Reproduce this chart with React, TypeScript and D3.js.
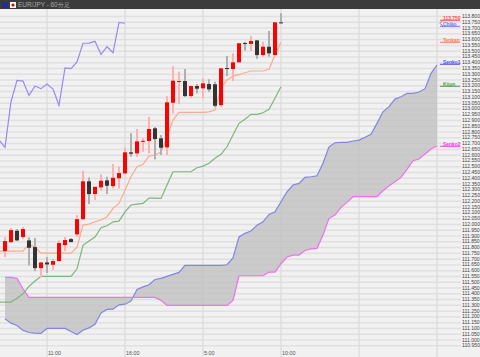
import React from "react";
import * as d3 from "d3";

const tickLabels = ["113.800","113.750","113.700","113.650","113.600","113.550","113.500","113.450","113.400","113.350","113.300","113.250","113.200","113.150","113.100","113.050","113.000","112.950","112.900","112.850","112.800","112.750","112.700","112.650","112.600","112.550","112.500","112.450","112.400","112.350","112.300","112.250","112.200","112.150","112.100","112.050","112.000","111.950","111.900","111.850","111.800","111.750","111.700","111.650","111.600","111.550","111.500","111.450","111.400","111.350","111.300","111.250","111.200","111.150","111.100","111.050","111.000","110.950"];

const timeLabels = ["11:00","16:00","5:00","10:00"];
const timeIndex = [7,20,33,46];
const extraGridIndex = [59,72];

const opens = [111.765,111.843,111.941,111.887,111.858,111.800,111.618,111.667,111.647,111.679,111.817,111.869,111.910,112.042,112.369,112.259,112.317,112.377,112.328,112.395,112.438,112.620,112.611,112.711,112.718,112.828,112.741,112.663,113.049,113.231,113.237,113.107,113.194,113.174,113.211,113.209,113.029,113.350,113.341,113.399,113.566,113.558,113.589,113.462,113.534,113.462,113.745];
const closes = [111.852,111.947,111.858,111.956,111.794,111.618,111.667,111.650,111.679,111.835,111.861,111.843,112.042,112.369,112.259,112.322,112.374,112.331,112.400,112.441,112.620,112.608,112.715,112.720,112.822,112.735,112.660,113.053,113.240,113.237,113.107,113.194,113.171,113.217,113.165,113.023,113.347,113.344,113.399,113.564,113.560,113.584,113.462,113.534,113.477,113.745,113.737];
const highs = [111.887,111.965,111.956,111.973,111.884,111.878,111.670,111.714,111.696,111.858,111.887,111.878,112.077,112.461,112.403,112.322,112.429,112.409,112.519,112.495,112.663,112.785,112.822,112.741,112.926,112.839,112.770,113.107,113.367,113.318,113.341,113.197,113.211,113.261,113.252,113.231,113.347,113.454,113.477,113.564,113.577,113.627,113.592,113.577,113.670,113.745,113.823];
const lows = [111.714,111.835,111.852,111.869,111.642,111.592,111.540,111.575,111.604,111.679,111.765,111.843,111.887,112.034,112.172,112.207,112.288,112.259,112.308,112.308,112.432,112.582,112.582,112.625,112.611,112.559,112.597,112.597,112.957,113.038,113.099,113.090,113.131,113.088,113.142,113.010,113.010,113.280,113.237,113.399,113.500,113.497,113.430,113.448,113.448,113.462,113.735];

const chikou = [112.726,112.663,113.058,113.243,113.237,113.113,113.194,113.171,113.211,113.168,113.027,113.350,113.344,113.402,113.564,113.566,113.581,113.468,113.534,113.482,113.745,113.737];
const tenkan = [111.765,111.765,111.765,111.765,111.765,111.823,111.800,111.748,111.748,111.748,111.748,111.748,111.748,111.800,111.990,111.999,112.019,112.034,112.063,112.135,112.178,112.293,112.409,112.495,112.516,112.588,112.597,112.622,112.752,112.899,112.966,112.966,112.966,112.966,112.966,112.971,112.986,113.176,113.246,113.280,113.292,113.309,113.324,113.324,113.324,113.339,113.462,113.572];
const kijun = [111.324,111.324,111.324,111.358,111.396,111.460,111.506,111.547,111.547,111.547,111.547,111.547,111.547,111.612,111.815,111.852,111.887,111.967,111.984,112.019,112.025,112.105,112.164,112.172,112.178,112.224,112.224,112.221,112.337,112.452,112.452,112.452,112.452,112.487,112.501,112.525,112.568,112.603,112.668,112.770,112.871,112.906,112.949,112.949,112.963,112.992,113.088,113.188];
const senkou1 = [111.179,111.142,111.122,111.079,111.061,111.055,111.053,111.096,111.096,111.096,111.096,111.070,111.044,111.081,111.101,111.131,111.229,111.261,111.263,111.300,111.306,111.332,111.434,111.456,111.474,111.520,111.529,111.546,111.564,111.581,111.642,111.642,111.642,111.642,111.642,111.642,111.642,111.647,111.707,111.888,111.919,111.939,111.990,112.019,112.083,112.105,112.192,112.279,112.337,112.351,112.403,112.409,112.417,112.525,112.668,112.703,112.706,112.706,112.718,112.726,112.750,112.776,112.871,112.971,113.015,113.081,113.101,113.131,113.131,113.142,113.171,113.304,113.376];
const senkou2 = [111.538,111.538,111.529,111.439,111.365,111.365,111.365,111.365,111.365,111.365,111.365,111.365,111.365,111.365,111.365,111.365,111.365,111.365,111.365,111.365,111.365,111.365,111.365,111.365,111.365,111.365,111.339,111.295,111.295,111.295,111.295,111.295,111.295,111.295,111.295,111.295,111.295,111.295,111.339,111.552,111.552,111.552,111.552,111.552,111.584,111.584,111.656,111.714,111.731,111.731,111.771,111.785,111.789,111.904,112.049,112.077,112.144,112.187,112.236,112.236,112.236,112.236,112.236,112.288,112.331,112.366,112.403,112.473,112.547,112.562,112.605,112.649,112.675];

const legendNames = ["113.750","Chiko","Tenkan","Senko1","Kijun","Senko2"];
const legendColors = ["#ff5050","#7070f0","#ff8050","#5050f0","#50a050","#f040f0"];
const legendRows = [18,24,40,62,84,144];

const UP = "#ff0000";
const DOWN = "#333333";
const FONT = "'Liberation Sans', Arial, sans-serif";

export default function App() {
  const x = d3.scaleLinear().domain([0, 72]).range([5, 437]);
  const y = d3.scaleLinear().domain([113.8, 110.95]).range([16, 345.3]);

  const line = (vals: number[], start: number) =>
    d3.line<number>().x((_, i) => x(i + start)).y((v) => y(v))(vals) as string;

  const cloud = d3
    .area<number>()
    .x((_, i) => x(i))
    .y0((v) => y(v))
    .y1((_, i) => y(senkou2[i]))(senkou1) as string;

  return (
    <svg
      width={480}
      height={357}
      style={{ position: "absolute", left: 0, top: 0, background: "#f1f1f1" }}
      fontFamily={FONT}
    >
      {tickLabels.map((t) => (
        <line key={t} x1={0} x2={461} y1={y(+t) + 0.5} y2={y(+t) + 0.5} stroke="#e0e0e0" strokeWidth={1.5} />
      ))}
      {[...timeIndex, ...extraGridIndex].map((i) => (
        <line key={i} x1={x(i)} x2={x(i)} y1={9} y2={357} stroke="#dcdcdc" strokeWidth={1.3} />
      ))}

      <path d={cloud} fill="#bdbdbd" fillOpacity={0.72} />
      <path d={line(senkou1, 0)} fill="none" stroke="#8484e6" strokeWidth={1.2} />
      <path d={line(senkou2, 0)} fill="none" stroke="#f070ee" strokeWidth={1.2} />
      <path d={line(chikou, -1)} fill="none" stroke="#9a88fb" strokeWidth={1.2} />
      <path d={line(kijun, -1)} fill="none" stroke="#7cb67c" strokeWidth={1.2} />
      <path d={line(tenkan, -1)} fill="none" stroke="#ffa98c" strokeWidth={1.2} />

      {opens.map((o, i) => {
        const c = closes[i];
        const up = c >= o;
        const top = y(Math.max(o, c));
        const bot = y(Math.min(o, c));
        return (
          <g key={i}>
            <rect
              x={x(i) - 1}
              width={2}
              y={y(highs[i])}
              height={Math.max(0, y(lows[i]) - y(highs[i]))}
              fill={up ? "#ffb0b0" : "#b0b0b0"}
            />
            <rect
              x={x(i) - 2}
              width={4}
              y={top}
              height={Math.max(1, bot - top)}
              fill={up ? UP : DOWN}
            />
          </g>
        );
      })}

      {tickLabels.map((t) => (
        <text key={t} x={462} y={y(+t) + 2} fontSize={5.1} fill="#444">
          {t}
        </text>
      ))}

      {timeLabels.map((t, i) => (
        <text key={t} x={x(timeIndex[i]) + 1} y={355} fontSize={5.4} fill="#555">
          {t}
        </text>
      ))}

      {legendNames.map((n, i) => (
        <g key={n}>
          <line x1={440} x2={460} y1={legendRows[i] + 2.3} y2={legendRows[i] + 2.3} stroke={legendColors[i]} strokeWidth={1} />
          <text x={443} y={legendRows[i] + 1.8} fontSize={4.9} fontWeight="bold" fill={legendColors[i]}>
            {n}
          </text>
        </g>
      ))}
      <path d={`M443 20.3L440 23.3`} stroke={legendColors[0]} fill="none" />
      <path d={`M440 23.3L443 26.3`} stroke={legendColors[1]} fill="none" />

      <rect x={0} y={0} width={480} height={9} fill="#3c3c3c" />
      <rect x={2} y={2} width={6} height={6} fill="#20308c" />
      <rect x={10} y={2} width={6} height={6} fill="#ffffff" />
      <circle cx={13} cy={5} r={1.6} fill="#e00000" />
      <text x={18} y={7.3} fontSize={6.4} fill="#aaaaaa">
        EUR/JPY - 60分足
      </text>
    </svg>
  );
}
